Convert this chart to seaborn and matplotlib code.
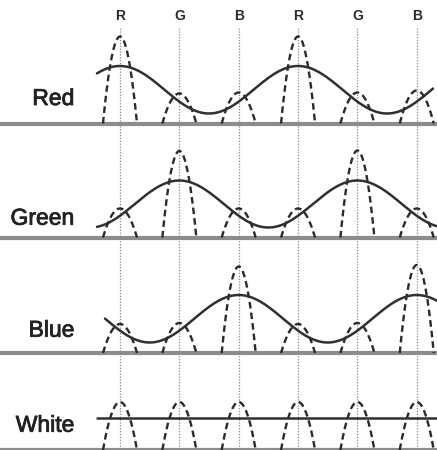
import numpy as np
import pandas as pd
import matplotlib
matplotlib.use("Agg")
import matplotlib.pyplot as plt
import matplotlib.patheffects as pe
import seaborn as sns

# ---- data ----
channels = ["R", "G", "B", "R", "G", "B"]
panels = ["Red", "Green", "Blue", "White"]
# dashed peak heights (px units) for each channel position, per panel
peaks_red = [87, 30, 31, 87, 31, 33]
peaks_green = [29, 86.5, 29, 29, 87, 29]
peaks_blue = [29, 30, 86.5, 29, 30, 88]
peaks_white = [48, 48, 48, 48, 48, 48]
# solid curve: level at its maximum, level at its minimum, channel index of the maximum
curve_max = [57.5, 57, 58, 32]
curve_min = [10, 10, 10.5, 32]
curve_peak_at = [0, 1, 2, 0]

# ---- layout constants ----
px0, pitch = 120.0, 59.35          # pixel x of first channel, spacing
W, H = 437, 450
baselines = [123.5, 237.5, 353, 450]
curve_span_px = [(97, 433), (97, 437), (105, 437), (97, 437)]
label_baseline = [105, 224.7, 336.7, 431.7]
half_w = 17 / pitch

sns.set_theme(style="white")
plt.rcParams["font.family"] = ["Liberation Sans", "DejaVu Sans"]

fig = plt.figure(figsize=(W / 100, H / 100), dpi=100)
ax = fig.add_axes([0, 0, 1, 1])
ax.set_xlim(-px0 / pitch, (W - px0) / pitch)
ax.set_ylim(H, 0)
ax.axis("off")

pos = np.arange(len(channels))

# vertical dotted guides
ax.vlines(pos, 28, H, colors="#8a8a8a", lw=0.9, linestyles=(0, (1, 1.3)), zorder=1)

# channel labels on top
for p, c in zip(pos, channels):
    ax.text(p, 15.5, c, ha="center", va="center", fontsize=10, fontweight="bold", color="#2a2a2a")

peak_sets = [peaks_red, peaks_green, peaks_blue, peaks_white]
rows_p, rows_c = [], []
for i, (name, base) in enumerate(zip(panels, baselines)):
    # baseline
    ax.axhline(base, color="#8c8c8c", lw=3, zorder=2, clip_on=False)
    # dashed peaks
    for j, h in enumerate(peak_sets[i]):
        u = np.linspace(-half_w, half_w, 60)
        y = base - h * (1 - (u / half_w) ** 2)
        for uu, yy in zip(u, y):
            rows_p.append((name, f"{name}{j}", pos[j] + uu, yy))
    # solid curve
    a, b = curve_span_px[i]
    xs = np.linspace((a - px0) / pitch, (b - px0) / pitch, 400)
    mean = (curve_max[i] + curve_min[i]) / 2
    amp = (curve_max[i] - curve_min[i]) / 2
    ys = base - (mean + amp * np.cos(2 * np.pi * (xs - curve_peak_at[i]) / 3))
    for xx, yy in zip(xs, ys):
        rows_c.append((name, xx, yy))
    ax.text(-0.77, label_baseline[i], name, ha="right", va="baseline",
            fontsize=16.5, color="#222222",
            path_effects=[pe.withStroke(linewidth=0.6, foreground="#222222")])

df_p = pd.DataFrame(rows_p, columns=["panel", "peak", "x", "y"])
df_c = pd.DataFrame(rows_c, columns=["panel", "x", "y"])

sns.lineplot(data=df_p, x="x", y="y", units="peak", estimator=None, sort=False,
             color="#2a2a2a", lw=1.7, linestyle=(0, (2.8, 1.7)), legend=False,
             ax=ax, zorder=3)
sns.lineplot(data=df_c, x="x", y="y", units="panel", estimator=None, sort=False,
             color="#303030", lw=1.8, legend=False, ax=ax, zorder=4)

ax.set_xlim(-px0 / pitch, (W - px0) / pitch)
ax.set_ylim(H, 0)
ax.axis("off")
fig.savefig("out.png", dpi=100)
